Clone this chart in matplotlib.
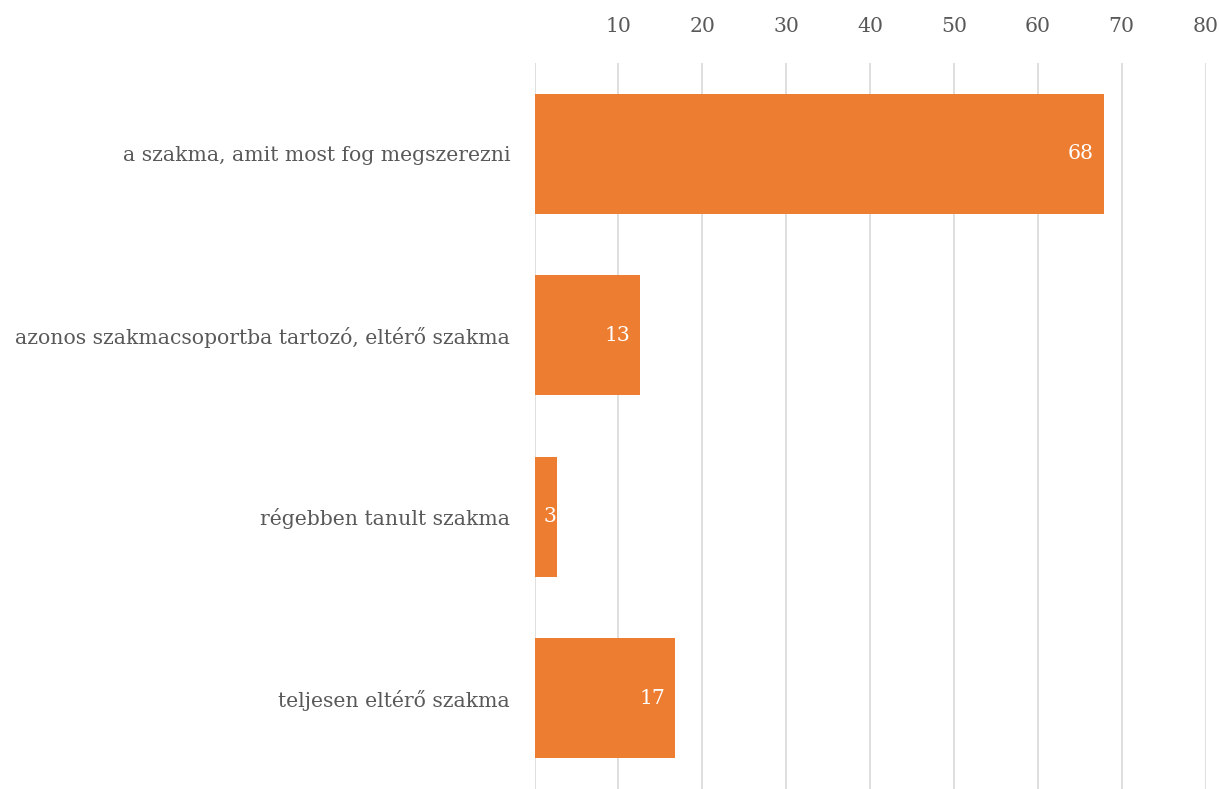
import matplotlib
matplotlib.use("Agg")
import matplotlib.pyplot as plt

categories = ["a szakma, amit most fog megszerezni",
              "azonos szakmacsoportba tartozó, eltérő szakma",
              "régebben tanult szakma",
              "teljesen eltérő szakma"]
values = [67.9, 12.6, 2.7, 16.8]
value_labels = ["68", "13", "3", "17"]
xticks = [10, 20, 30, 40, 50, 60, 70, 80]

plt.rcParams['font.family'] = ['DejaVu Serif']
TEXT = "#595959"
BAR = "#ED7D31"
FS = 14.7

fig = plt.figure(figsize=(12.2, 7.89), dpi=100)
ax = fig.add_axes([534.5/1220, 0, 671/1220, (789-63)/789])

y = list(range(len(categories)))
ax.barh(y, values, height=0.66, color=BAR, zorder=3)
ax.set_ylim(len(categories) - 0.5, -0.5)
ax.set_xlim(0, 80)
ax.set_yticks(y)
ax.set_yticklabels(categories, fontsize=FS, color=TEXT)
ax.set_xticks([0] + xticks)
ax.set_xticklabels([""] + [str(t) for t in xticks], fontsize=FS, color=TEXT)
ax.xaxis.tick_top()
ax.tick_params(axis='x', length=0, pad=19.5)
ax.tick_params(axis='y', length=0, pad=17.5)
ax.grid(axis='x', color="#D9D9D9", linewidth=1.2, zorder=0)
for s in ax.spines.values():
    s.set_visible(False)

for yi, v, lab in zip(y, values, value_labels):
    off = 1.2 if v > 5 else 0.1
    ax.text(v - off, yi, lab, ha='right', va='center', color='white', fontsize=FS, zorder=4)

fig.savefig("out.png", dpi=100)
